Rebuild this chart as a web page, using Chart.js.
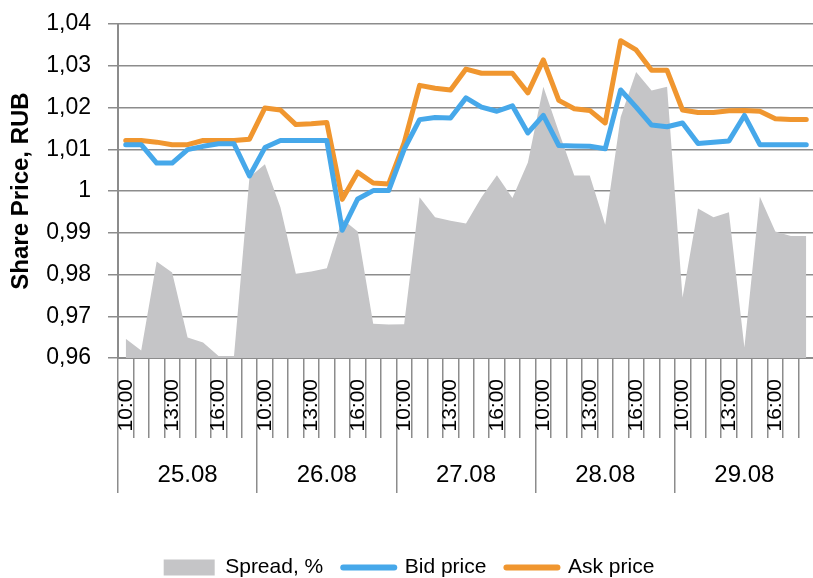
<!DOCTYPE html>
<html>
<head>
<meta charset="utf-8">
<script src="https://cdn.jsdelivr.net/npm/chart.js@4.4.1/dist/chart.umd.min.js"></script>
<style>
  html, body { margin: 0; padding: 0; background: #fff; overflow: hidden; }
  #wrap { position: relative; width: 816px; height: 588px; }
</style>
</head>
<body>
<div id="wrap"><canvas id="spreadChart"></canvas></div>
<script>
// Trading days and hourly slots
const days = ['25.08', '26.08', '27.08', '28.08', '29.08'];
const hours = ['10:00', '11:00', '12:00', '13:00', '14:00', '15:00', '16:00', '17:00', '18:00'];
const shownHours = ['10:00', '13:00', '16:00'];

// Share price, RUB
const bidPrice = [
  1.0111, 1.0111, 1.0067, 1.0067, 1.0099, 1.0107, 1.0113, 1.0113, 1.0036,
  1.0104, 1.0121, 1.0121, 1.0121, 1.0121, 0.9906, 0.9981, 1.0001, 1.0001,
  1.0100, 1.0171, 1.0176, 1.0175, 1.0223, 1.0201, 1.0191, 1.0204, 1.0139,
  1.0181, 1.0109, 1.0108, 1.0107, 1.0101, 1.0242, 1.0201, 1.0158, 1.0154,
  1.0163, 1.0114, 1.0117, 1.0120, 1.0181, 1.0111, 1.0111, 1.0111, 1.0111
];
const askPrice = [
  1.0121, 1.0121, 1.0117, 1.0111, 1.0111, 1.0121, 1.0121, 1.0121, 1.0124,
  1.0199, 1.0194, 1.0159, 1.0161, 1.0164, 0.9980, 1.0045, 1.0019, 1.0017,
  1.0115, 1.0253, 1.0246, 1.0242, 1.0292, 1.0282, 1.0282, 1.0282, 1.0235,
  1.0314, 1.0217, 1.0197, 1.0193, 1.0163, 1.0360, 1.0338, 1.0289, 1.0289,
  1.0194, 1.0188, 1.0188, 1.0192, 1.0193, 1.0191, 1.0173, 1.0171, 1.0171
];
// Spread, % (secondary axis, not shown)
const spreadPct = [
  0.092, 0.036, 0.462, 0.410, 0.098, 0.074, 0.010, 0.010, 0.866,
  0.928, 0.722, 0.404, 0.414, 0.430, 0.666, 0.606, 0.164, 0.160,
  0.162, 0.770, 0.674, 0.658, 0.644, 0.770, 0.876, 0.766, 0.936,
  1.300, 1.084, 0.874, 0.874, 0.638, 1.154, 1.370, 1.282, 1.300,
  0.290, 0.716, 0.674, 0.698, 0.050, 0.772, 0.606, 0.584, 0.584
];

const labels = days.flatMap(d => hours.map(h => d + ' ' + h));

const FONT = "'Liberation Sans', Arial, sans-serif";
const AXIS_GREY = '#8c8c8c';

new Chart(document.getElementById('spreadChart'), {
  type: 'line',
  data: {
    labels: labels,
    datasets: [
      {
        label: 'Spread, %',
        data: spreadPct,
        yAxisID: 'ySpread',
        backgroundColor: '#c5c5c7',
        borderWidth: 0,
        fill: 'start',
        pointRadius: 0,
        order: 3
      },
      {
        label: 'Bid price',
        data: bidPrice,
        borderColor: '#46a8ea',
        borderWidth: 5,
        borderJoinStyle: 'round',
        borderCapStyle: 'round',
        pointRadius: 0,
        fill: false,
        order: 1
      },
      {
        label: 'Ask price',
        data: askPrice,
        borderColor: '#f0962f',
        borderWidth: 5,
        borderJoinStyle: 'round',
        borderCapStyle: 'round',
        pointRadius: 0,
        fill: false,
        order: 2
      }
    ]
  },
  options: {
    responsive: true,
    maintainAspectRatio: false,
    animation: false,
    layout: { padding: { top: 24, left: 4, right: 2, bottom: 0 } },
    plugins: {
      tooltip: { enabled: false },
      legend: {
        position: 'bottom',
        labels: {
          usePointStyle: true,
          pointStyleWidth: 51,
          boxHeight: 16,
          padding: 20,
          color: '#000',
          font: { family: FONT, size: 21 },
          generateLabels(chart) {
            return chart.data.datasets.map((ds, i) => ({
              text: ds.label,
              datasetIndex: i,
              fillStyle: ds.fill ? ds.backgroundColor : 'rgba(0,0,0,0)',
              strokeStyle: ds.fill ? 'rgba(0,0,0,0)' : ds.borderColor,
              lineWidth: ds.fill ? 0 : 6,
              lineCap: 'round',
              pointStyle: ds.fill ? 'rect' : 'line',
              hidden: false
            }));
          }
        }
      }
    },
    scales: {
      x: {
        type: 'category',
        offset: true,
        grid: {
          offset: true,
          drawOnChartArea: false,
          tickLength: 80,
          color: AXIS_GREY,
          lineWidth: 1.5
        },
        border: { display: true, color: AXIS_GREY, width: 2 },
        ticks: {
          autoSkip: false,
          minRotation: 90,
          maxRotation: 90,
          padding: -59,
          color: '#000',
          font: { family: FONT, size: 21 },
          callback: (v, i) => shownHours.includes(hours[i % hours.length]) ? hours[i % hours.length] : ''
        },
        afterFit: s => { s.height = 80; }
      },
      xDays: {
        type: 'category',
        position: 'bottom',
        labels: days,
        offset: true,
        grid: {
          offset: true,
          drawOnChartArea: false,
          tickLength: 55,
          color: AXIS_GREY,
          lineWidth: 1.5
        },
        border: { display: false },
        ticks: {
          padding: -32,
          color: '#000',
          font: { family: FONT, size: 24 }
        },
        afterFit: s => { s.height = 99; }
      },
      y: {
        min: 0.96,
        max: 1.04,
        grid: { color: AXIS_GREY, lineWidth: 1.5, tickLength: 10 },
        border: { display: true, color: AXIS_GREY, width: 2 },
        ticks: {
          stepSize: 0.01,
          padding: 17,
          color: '#000',
          font: { family: FONT, size: 23 },
          callback: v => String(Number(v.toFixed(2))).replace('.', ',')
        },
        title: {
          display: true,
          text: 'Share Price, RUB',
          color: '#000',
          padding: { top: 3, bottom: 0 },
          font: { family: FONT, size: 24, weight: 'bold' }
        },
        afterFit: s => {
          s.width = 114;
          // let the plot start right at the layout padding
          s.paddingTop = 0;
          s.paddingBottom = 0;
        }
      },
      ySpread: {
        display: false,
        min: 0,
        max: 1.6
      }
    }
  }
});
</script>
</body>
</html>
